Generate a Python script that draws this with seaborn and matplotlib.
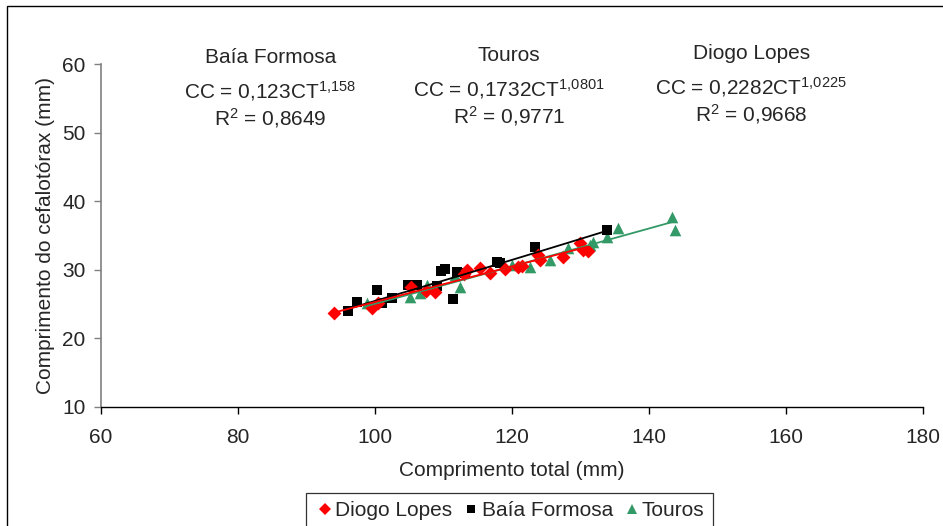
import numpy as np
import pandas as pd
import matplotlib
matplotlib.use("Agg")
import matplotlib.pyplot as plt
from matplotlib.patches import Rectangle
from matplotlib.lines import Line2D
import seaborn as sns

# ---- data ----
dl_x = [94.0, 99.6, 100.5, 105.3, 107.4, 108.8, 113.0, 113.4, 115.3, 116.8, 119.0, 120.9,
        121.5, 123.8, 124.1, 127.4, 129.9, 130.4, 131.1]
dl_y = [23.7, 24.4, 25.2, 27.5, 26.9, 26.8, 29.4, 30.0, 30.3, 29.5, 30.1, 30.4,
        30.6, 32.2, 31.4, 31.9, 33.9, 32.9, 32.7]

bf_x = [96.1, 97.4, 100.3, 101.0, 102.5, 104.8, 106.1, 109.1, 109.6, 110.2, 111.4,
        112.0, 113.1, 117.8, 118.2, 123.4, 133.9]
bf_y = [24.0, 25.3, 27.0, 25.2, 25.9, 27.8, 27.8, 27.6, 29.8, 30.1, 25.7,
        29.7, 29.5, 31.1, 31.0, 33.3, 35.8]

to_x = [98.8, 105.1, 106.6, 107.6, 111.7, 112.4, 120.0, 122.6, 125.5, 128.2, 131.4,
        131.8, 133.9, 135.5, 143.4, 143.8]
to_y = [25.2, 26.0, 26.6, 27.8, 29.2, 27.5, 30.7, 30.4, 31.4, 33.2, 33.6,
        34.1, 34.8, 36.1, 37.7, 35.8]

groups = ["Diogo Lopes", "Baía Formosa", "Touros"]
# power fit CC = a * CT^b
fit_a = {"Diogo Lopes": 0.2282, "Baía Formosa": 0.123, "Touros": 0.1732}
fit_b = {"Diogo Lopes": 1.0225, "Baía Formosa": 1.158, "Touros": 1.0801}
fit_a_txt = {"Diogo Lopes": "0,2282", "Baía Formosa": "0,123", "Touros": "0,1732"}
fit_b_txt = {"Diogo Lopes": "1,0225", "Baía Formosa": "1,158", "Touros": "1,0801"}
r2_txt = {"Diogo Lopes": "0,9668", "Baía Formosa": "0,8649", "Touros": "0,9771"}
label_x = {"Baía Formosa": 84.7, "Touros": 119.6, "Diogo Lopes": 154.9}
label_y = {"Baía Formosa": 60.9, "Touros": 61.2, "Diogo Lopes": 61.5}

x_ticks = [60, 80, 100, 120, 140, 160, 180]
y_ticks = [10, 20, 30, 40, 50, 60]

colors = {"Diogo Lopes": "#FF0000", "Baía Formosa": "#000000", "Touros": "#339966"}
markers = {"Diogo Lopes": "D", "Baía Formosa": "s", "Touros": "^"}
msizes = {"Diogo Lopes": 50, "Baía Formosa": 52, "Touros": 70}

df = pd.DataFrame({
    "CT": dl_x + bf_x + to_x,
    "CC": dl_y + bf_y + to_y,
    "Local": ["Diogo Lopes"] * len(dl_x) + ["Baía Formosa"] * len(bf_x) + ["Touros"] * len(to_x),
})

sns.set_style("white")
plt.rcParams["font.family"] = ["Liberation Sans", "DejaVu Sans"]
plt.rcParams["mathtext.fontset"] = "custom"
plt.rcParams["mathtext.rm"] = "Liberation Sans"
plt.rcParams["mathtext.it"] = "Liberation Sans"

FS = 15
fig = plt.figure(figsize=(9.43, 5.26), dpi=100)
ax = fig.add_axes([101 / 943, 1 - 407 / 526, (923 - 101) / 943, (407 - 64) / 526])

# trend lines
for g in ["Touros", "Baía Formosa", "Diogo Lopes"]:
    sub = df[df.Local == g]
    xs = np.linspace(sub.CT.min(), sub.CT.max(), 60)
    ys = fit_a[g] * xs ** fit_b[g]
    sns.lineplot(x=xs, y=ys, ax=ax, color=colors[g], lw=1.3, zorder=3, legend=False)

for g in ["Touros", "Baía Formosa", "Diogo Lopes"]:
    sub = df[df.Local == g]
    sns.scatterplot(data=sub, x="CT", y="CC", color=colors[g], marker=markers[g],
                    s=msizes[g], linewidth=0, ax=ax, zorder=2, legend=False)

ax.set_xlim(60, 180)
ax.set_ylim(10, 60)
ax.set_xticks(x_ticks)
ax.set_yticks(y_ticks)
ax.tick_params(axis="both", labelsize=FS, length=5, width=1.0, direction="out",
               bottom=True, left=True)
ax.tick_params(axis="x", pad=10, color="black")
ax.tick_params(axis="y", pad=6, color="#808080")
for s in ["top", "right"]:
    ax.spines[s].set_visible(False)
ax.spines["left"].set_color("#808080")
ax.spines["left"].set_linewidth(1.2)
ax.spines["bottom"].set_color("black")
ax.spines["bottom"].set_linewidth(1.0)

ax.set_xlabel("Comprimento total (mm)", fontsize=FS, labelpad=10)
ax.set_ylabel("Comprimento do cefalotórax (mm)", fontsize=FS, labelpad=5)

for g in ["Baía Formosa", "Touros", "Diogo Lopes"]:
    xc = label_x[g]
    y0 = label_y[g]
    ax.text(xc, y0, g, ha="center", va="center", fontsize=FS)
    ax.text(xc, y0 - 4.8, "CC = %sCT$^{\\mathregular{%s}}$" % (fit_a_txt[g], fit_b_txt[g].replace(",", "{,}")),
            ha="center", va="center", fontsize=FS)
    ax.text(xc, y0 - 8.8, "R$^{\\mathregular{2}}$ = %s" % r2_txt[g], ha="center", va="center", fontsize=FS)

# legend at bottom
handles = [Line2D([], [], linestyle="none", marker=markers[g], color=colors[g],
                  markersize={"Diogo Lopes": 6, "Baía Formosa": 6, "Touros": 7.5}[g],
                  markeredgewidth=0) for g in groups]
ax.legend(handles, groups, loc="upper center", bbox_to_anchor=(0.497, -0.251),
          ncol=3, frameon=True, fancybox=False, edgecolor="black", fontsize=FS,
          handletextpad=0.0, columnspacing=0.4, borderpad=0.4,
          handlelength=1.0, borderaxespad=0)
leg = ax.get_legend()
leg.get_frame().set_linewidth(0.9)

# outer chart border
fig.patches.append(Rectangle((7 / 943, -0.1), 1.0, 1.1 - 6 / 526, transform=fig.transFigure,
                             fill=False, edgecolor="black", linewidth=1.0))

fig.savefig("out.png", dpi=100)
